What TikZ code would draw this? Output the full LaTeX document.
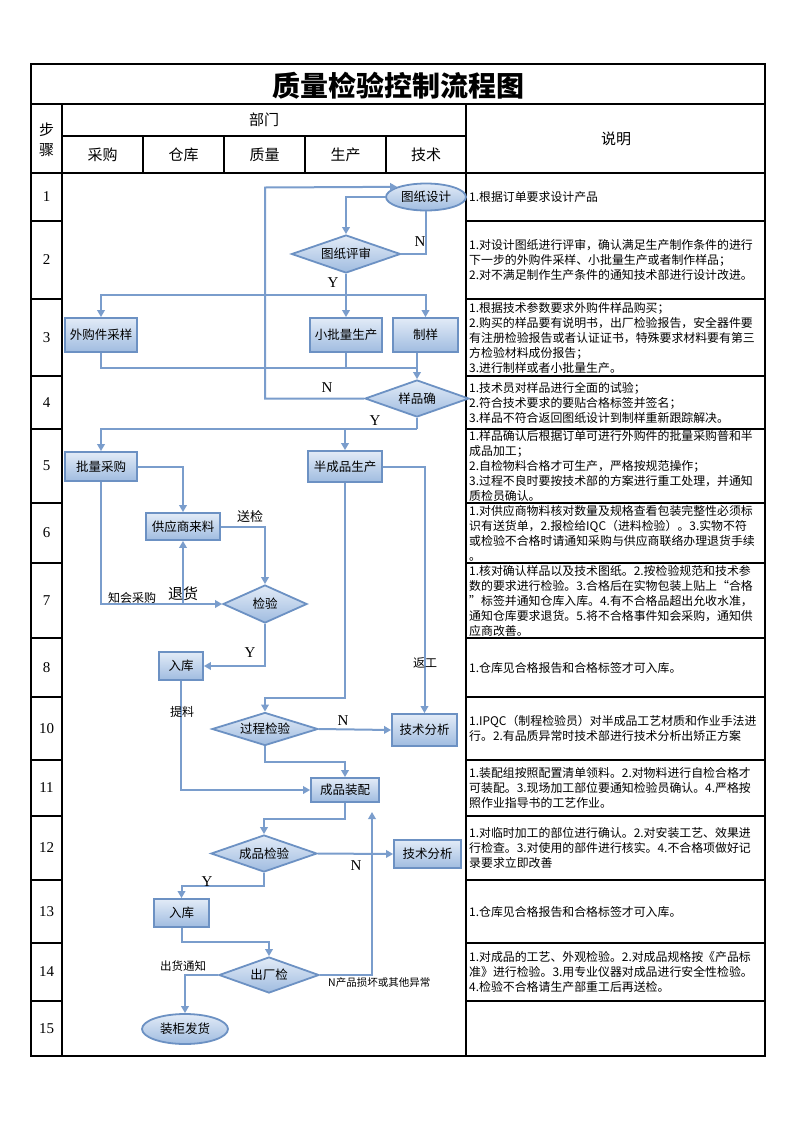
\documentclass[tikz,border=0pt]{standalone}
\usepackage{fontspec}
\setmainfont{Liberation Serif}
\newfontfamily\cjk{Noto Sans CJK SC}
\usetikzlibrary{shapes.geometric,arrows.meta,calc}
\definecolor{flowline}{RGB}{122,157,204}
\definecolor{nodeborder}{RGB}{108,145,195}
\definecolor{nodetop}{RGB}{226,235,247}
\definecolor{nodebot}{RGB}{160,188,224}
\begin{document}
\begin{tikzpicture}[x=1pt,y=-1pt,
  tline/.style={line width=1.2pt,draw=black},
  flow/.style={draw=flowline,line width=2pt},
  arr/.style={flow,-{Triangle[length=7pt,width=7.5pt]}},
  nbase/.style={draw=nodeborder,line width=1.8pt,top color=nodetop,bottom color=nodebot,inner sep=0pt,font=\cjk\fontsize{12.5}{14}\selectfont,text=black},
  procbox/.style={nbase,rectangle},
  decbox/.style={nbase,diamond,aspect=3},
  termbox/.style={nbase,ellipse},
  desc/.style={anchor=west,inner sep=0pt,align=left,font=\cjk\fontsize{11.9}{15}\selectfont},
  lbl/.style={inner sep=0pt,font=\cjk\fontsize{12}{14}\selectfont},
  yn/.style={inner sep=0pt,font=\fontsize{15}{15}\selectfont},
  hdr/.style={inner sep=0pt,font=\cjk\fontsize{15}{17}\selectfont},
  stepno/.style={inner sep=0pt,font=\fontsize{15}{15}\selectfont}
  ]
\useasboundingbox (0,0) rectangle (793,1122);
\fill[white] (0,0) rectangle (793,1122);

% ---------- table ----------
\draw[tline] (31,64) rectangle (765,1056);
\draw[tline] (31,104) -- (765,104);
\draw[tline] (62,104) -- (62,1056);
\draw[tline] (466,104) -- (466,1056);
\draw[tline] (62,136) -- (466,136);
\foreach \x in {143,224,305,386} \draw[tline] (\x,136) -- (\x,173);
\draw[tline] (31,173) -- (765,173);
\foreach \y in {221,299,376,429,503,563,638,697,760,816,880,943,1001}{
  \draw[tline] (31,\y) -- (62,\y);
  \draw[tline] (466,\y) -- (765,\y);
}

\node[inner sep=0pt,font=\cjk\bfseries\fontsize{28}{30}\selectfont] (title) at (398,86) {质量检验控制流程图};
\node[hdr] (hbu) at (46.5,130) {步};
\node[hdr] (hzhou) at (46.5,150) {骤};
\node[hdr] (hdept) at (264,120) {部门};
\node[hdr] (hcg) at (102.5,155) {采购};
\node[hdr] (hck) at (183.5,155) {仓库};
\node[hdr] (hzl) at (264.5,155) {质量};
\node[hdr] (hsc) at (345.5,155) {生产};
\node[hdr] (hjs) at (426,155) {技术};
\node[hdr] (hsm) at (616,139) {说明};

% step numbers
\node[stepno] (s1) at (46.5,197) {1};
\node[stepno] (s2) at (46.5,260) {2};
\node[stepno] (s3) at (46.5,337.5) {3};
\node[stepno] (s4) at (46.5,402.5) {4};
\node[stepno] (s5) at (46.5,466) {5};
\node[stepno] (s6) at (46.5,533) {6};
\node[stepno] (s7) at (46.5,600.5) {7};
\node[stepno] (s8) at (46.5,667.5) {8};
\node[stepno] (s10) at (46.5,728.5) {10};
\node[stepno] (s11) at (46.5,788) {11};
\node[stepno] (s12) at (46.5,848) {12};
\node[stepno] (s13) at (46.5,911.5) {13};
\node[stepno] (s14) at (46.5,972) {14};
\node[stepno] (s15) at (46.5,1028.5) {15};

% descriptions
\node[desc] (t1) at (469,197) {1.根据订单要求设计产品};
\node[desc] (t2) at (469,260) {1.对设计图纸进行评审，确认满足生产制作条件的进行\\下一步的外购件采样、小批量生产或者制作样品；\\2.对不满足制作生产条件的通知技术部进行设计改进。};
\node[desc] (t3) at (469,337.5) {1.根据技术参数要求外购件样品购买；\\2.购买的样品要有说明书，出厂检验报告，安全器件要\\有注册检验报告或者认证证书，特殊要求材料要有第三\\方检验材料成份报告；\\3.进行制样或者小批量生产。};
\node[desc] (t4) at (469,402.5) {1.技术员对样品进行全面的试验；\\2.符合技术要求的要贴合格标签并签名；\\3.样品不符合返回图纸设计到制样重新跟踪解决。};
\node[desc] (t5) at (469,466) {1.样品确认后根据订单可进行外购件的批量采购普和半\\成品加工；\\2.自检物料合格才可生产，严格按规范操作；\\3.过程不良时要按技术部的方案进行重工处理，并通知\\质检员确认。};
\node[desc] (t6) at (469,533) {1.对供应商物料核对数量及规格查看包装完整性必须标\\识有送货单，2.报检给IQC（进料检验）。3.实物不符\\或检验不合格时请通知采购与供应商联络办理退货手续\\。};
\node[desc] (t7) at (469,600.5) {1.核对确认样品以及技术图纸。2.按检验规范和技术参\\数的要求进行检验。3.合格后在实物包装上贴上“合格\\”标签并通知仓库入库。4.有不合格品超出允收水准，\\通知仓库要求退货。5.将不合格事件知会采购，通知供\\应商改善。};
\node[desc] (t8) at (469,667.5) {1.仓库见合格报告和合格标签才可入库。};
\node[desc] (t10) at (469,728.5) {1.IPQC（制程检验员）对半成品工艺材质和作业手法进\\行。2.有品质异常时技术部进行技术分析出矫正方案};
\node[desc] (t11) at (469,788) {1.装配组按照配置清单领料。2.对物料进行自检合格才\\可装配。3.现场加工部位要通知检验员确认。4.严格按\\照作业指导书的工艺作业。};
\node[desc] (t12) at (469,848) {1.对临时加工的部位进行确认。2.对安装工艺、效果进\\行检查。3.对使用的部件进行核实。4.不合格项做好记\\录要求立即改善};
\node[desc] (t13) at (469,911.5) {1.仓库见合格报告和合格标签才可入库。};
\node[desc] (t14) at (469,972) {1.对成品的工艺、外观检验。2.对成品规格按《产品标\\准》进行检验。3.用专业仪器对成品进行安全性检验。\\4.检验不合格请生产部重工后再送检。};

% ---------- flow nodes ----------
\node[termbox,minimum width=80pt,minimum height=27pt] (sj) at (426,197) {图纸设计};
\node[decbox,minimum width=109pt,minimum height=38pt] (ps) at (346,254) {图纸评审};
\node[procbox,minimum width=72pt,minimum height=34pt] (wg) at (101,335) {外购件采样};
\node[procbox,minimum width=72pt,minimum height=34pt] (xp) at (346,335) {小批量生产};
\node[procbox,minimum width=65pt,minimum height=34pt] (zy) at (425.5,335) {制样};
\node[decbox,minimum width=104pt,minimum height=37pt] (yp) at (417,398.5) {样品确};
\node[procbox,minimum width=72pt,minimum height=29pt] (pl) at (101,466.5) {批量采购};
\node[procbox,minimum width=74pt,minimum height=31pt] (bc) at (345,466.5) {半成品生产};
\node[procbox,minimum width=74pt,minimum height=27pt] (gy) at (183,526.5) {供应商来料};
\node[decbox,minimum width=84pt,minimum height=38pt] (jy) at (265,604) {检验};
\node[procbox,minimum width=44pt,minimum height=28pt] (rk1) at (181,666) {入库};
\node[decbox,minimum width=106pt,minimum height=33pt] (gc) at (265,729) {过程检验};
\node[procbox,minimum width=65pt,minimum height=32pt] (js1) at (424.5,730) {技术分析};
\node[procbox,minimum width=68pt,minimum height=24pt] (zp) at (345,790) {成品装配};
\node[decbox,minimum width=106pt,minimum height=37pt] (cj) at (264,853.5) {成品检验};
\node[procbox,minimum width=67pt,minimum height=28pt] (js2) at (427.5,854) {技术分析};
\node[procbox,minimum width=55pt,minimum height=28pt] (rk2) at (181.5,913) {入库};
\node[decbox,minimum width=100pt,minimum height=36pt] (cc) at (269,975) {出厂检};
\node[termbox,minimum width=86pt,minimum height=30pt] (zg) at (185,1029) {装柜发货};

% ---------- connectors ----------
\coordinate (ysplit) at (346,295);
\coordinate (m1) at (417,368);
\coordinate (lp) at (265,187.5);
\coordinate (m2) at (417,429);
\coordinate (c3) at (345,698);
\coordinate (c5) at (372,812);

\draw[arr] (sj.west) -| (ps.north);
\draw[flow] (ps.east) -| (sj.south);
\draw[arr] (ps.south) -- (xp.north);
\draw[arr] (ysplit) -| (wg.north);
\draw[arr] (ysplit) -| (zy.north);
\draw[flow] (wg.south) |- (m1);
\draw[flow] (xp.south) -- (xp.south |- m1);
\draw[arr] (zy.south -| yp.north) -- (yp.north);
\draw[arr] (yp.west) -| (lp) -- (sj.north west);
\draw[flow] (yp.south) -- (m2);
\draw[arr] (m2) -| (pl.north);
\draw[arr] (m2 -| bc.north) -- (bc.north);
\draw[arr] (pl.east) -| (gy.north);
\draw[arr] (gy.east) -| (jy.north);
\draw[arr] (pl.south) |- (jy.west);
\draw[arr] (gy.south |- jy.west) -- (gy.south);
\draw[arr] (jy.south) |- (rk1.east);
\draw[arr] (bc.south) -- (c3) -| (gc.north);
\draw[arr] (bc.east) -| (js1.north);
\draw[arr] (gc.east) -- (js1.west);
\draw[arr] (gc.south) -- ++(0,16) -| (zp.north);
\draw[arr] (rk1.south) |- (zp.west);
\draw[arr] (zp.south) -- ++(0,16) -| (cj.north);
\draw[arr] (cj.east) -- (js2.west);
\draw[arr] (cj.south) -- ++(0,13) -| (rk2.north);
\draw[arr] (rk2.south) -- ++(0,14) -| (cc.north);
\draw[arr] (cc.east) -| (c5);
\draw[arr] (cc.west) -| (zg.north);

% ---------- labels ----------
\node[yn] (n1) at (420,242) {N};
\node[yn] (y1) at (333,283) {Y};
\node[yn] (n2) at (327,388) {N};
\node[yn] (y2) at (375,421) {Y};
\node[lbl,font=\cjk\fontsize{13}{14}\selectfont] (lsj) at (250,517) {送检};
\node[lbl] (lzh) at (132,598) {知会采购};
\node[lbl,font=\cjk\fontsize{15}{16}\selectfont] (lth) at (183,594) {退货};
\node[yn] (y3) at (250,653) {Y};
\node[lbl] (lfg) at (425,663) {返工};
\node[lbl] (ltl) at (182,712) {提料};
\node[yn] (n3) at (343,721) {N};
\node[yn] (n4) at (356,866) {N};
\node[yn] (y4) at (207,882) {Y};
\node[lbl,font=\cjk\fontsize{11.5}{13}\selectfont] (lch) at (183,966) {出货通知};
\node[lbl,anchor=west,font=\cjk\fontsize{10.5}{12}\selectfont] (lyc) at (328,983) {N产品损坏或其他异常};
\end{tikzpicture}
\end{document}
